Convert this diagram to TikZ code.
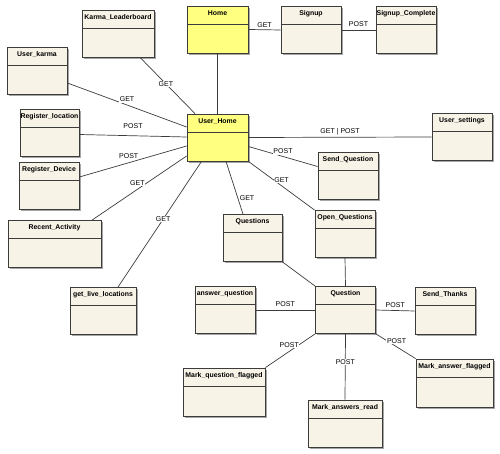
\documentclass[tikz,border=0pt]{standalone}
\usepackage{fontspec}
\setmainfont{Liberation Sans}
\usetikzlibrary{shadows}
\definecolor{boxfill}{RGB}{248,243,231}
\definecolor{homefill}{RGB}{255,255,128}
\definecolor{edgegray}{RGB}{60,60,60}
\tikzset{
  classbox/.style={draw=edgegray, line width=0.8pt, fill=boxfill, minimum height=47pt, inner sep=0pt,
    drop shadow={shadow xshift=1.6pt, shadow yshift=-1.6pt, fill=black, opacity=.35}},
  homebox/.style={classbox, fill=homefill},
  boxtitle/.style={anchor=north, inner sep=0pt, font=\fontsize{6.9}{8}\selectfont\bfseries},
  boxrule/.style={draw=edgegray, line width=0.8pt},
  link/.style={draw=edgegray, line width=0.7pt},
  lbl/.style={fill=white, inner sep=0.6pt, font=\fontsize{7}{8}\selectfont},
}
\begin{document}
\begin{tikzpicture}[x=1pt, y=-1pt]
    \useasboundingbox (0,0) rectangle (500,454);

    % Entry pages - top row
    \node[homebox, minimum width=61pt] (home) at (217.5,29.5) {};
    \node[classbox, minimum width=60pt] (signup) at (311,30) {};
    \node[classbox, minimum width=60pt] (signupdone) at (406,30) {};
    \node[classbox, minimum width=72pt] (karma) at (118,33.5) {};

    % Hub and the pages round it
    \node[homebox, minimum width=61pt] (uhome) at (217.5,137.5) {};
    \node[classbox, minimum width=60pt] (ukarma) at (37,71) {};
    \node[classbox, minimum width=59pt] (regloc) at (49.5,133) {};
    \node[classbox, minimum width=60pt] (regdev) at (49,186) {};
    \node[classbox, minimum width=93pt] (recent) at (54.5,244) {};
    \node[classbox, minimum width=66pt] (livelocs) at (103,311) {};
    \node[classbox, minimum width=60pt] (usettings) at (462,137) {};
    \node[classbox, minimum width=60pt] (sendq) at (348,175.5) {};
    \node[classbox, minimum width=60pt] (openq) at (345,234) {};
    \node[classbox, minimum width=59pt] (questions) at (252.5,238) {};

    % Question page and its actions - bottom
    \node[classbox, minimum width=60pt] (question) at (345.5,310) {};
    \node[classbox, minimum width=60pt] (thanks) at (445,311) {};
    \node[classbox, minimum width=60pt] (answerq) at (225,310) {};
    \node[classbox, minimum width=82pt, minimum height=48pt] (markqf) at (224,392) {};
    \node[classbox, minimum width=74pt] (markread) at (345,423.5) {};
    \node[classbox, minimum width=77pt, minimum height=48pt] (markaf) at (454.5,383) {};

    % Titles and header rules
    \foreach \n/\t in {home/Home, signup/Signup, signupdone/Signup\_Complete, karma/Karma\_Leaderboard,
        uhome/User\_Home, ukarma/User\_karma, regloc/Register\_location, regdev/Register\_Device,
        recent/Recent\_Activity, livelocs/get\_live\_locations, usettings/User\_settings,
        sendq/Send\_Question, openq/Open\_Questions, questions/Questions, question/Question,
        thanks/Send\_Thanks, answerq/answer\_question, markqf/Mark\_question\_flagged,
        markread/Mark\_answers\_read, markaf/Mark\_answer\_flagged}{
      \node[boxtitle] (\n-title) at ([yshift=-4.5pt]\n.north) {\t};
      \draw[boxrule] ([yshift=-18.5pt]\n.north west) -- ([yshift=-18.5pt]\n.north east);
    }

    % Connections from the entry pages
    \draw[link] (home.south) -- (uhome.north);
    \draw[link] (home.east) -- node[lbl, above=1.5pt] {GET} (signup.west);
    \draw[link] (signup.east) -- node[lbl, above=2pt] {POST} (signupdone.west);

    % Connections round the hub
    \draw[link] ([xshift=22pt]karma.south) -- node[lbl, pos=.47] {GET} ([xshift=-22.5pt]uhome.north);
    \draw[link] ([yshift=-12pt]ukarma.east) -- node[lbl, above=2pt] {GET} ([yshift=10.5pt]uhome.west);
    \draw[link] ([yshift=-1.5pt]regloc.east) -- node[lbl, above=6pt] {POST} ([yshift=0.5pt]uhome.west);
    \draw[link] ([yshift=9pt]regdev.east) -- node[lbl, pos=.46, above=3.5pt] {POST} ([yshift=-8.5pt]uhome.west);
    \draw[link] ([xshift=37.5pt]recent.north) -- node[lbl, pos=.48, above=2.5pt] {GET} ([yshift=-18.5pt]uhome.west);
    \draw[link] ([xshift=15pt]livelocs.north) -- node[lbl, pos=.54] {GET} ([xshift=-16pt]uhome.south);
    \draw[link] (uhome.east) -- node[lbl, above=1.5pt] {GET | POST} (usettings.west);
    \draw[link] ([yshift=-9pt]uhome.east) -- node[lbl, above=1.5pt] {POST} ([yshift=9pt]sendq.west);
    \draw[link] (uhome.south east) -- node[lbl, above=2.5pt] {GET} (openq.north west);
    \draw[link] ([xshift=8.5pt]uhome.south) -- node[lbl, pos=.7, right=1pt] {GET} ([xshift=-9.5pt]questions.north);

    % Connections of the question page
    \draw[link] (questions.south east) -- (question.north west);
    \draw[link] (openq.south) -- (question.north);
    \draw[link] (answerq.east) -- node[lbl, above=2pt] {POST} (question.west);
    \draw[link] (question.east) -- node[lbl, above=2pt] {POST} (thanks.west);
    \draw[link] (question.south west) -- node[lbl, pos=.52, above=3pt] {POST} (markqf.north east);
    \draw[link] (question.south) -- node[lbl, pos=.43] {POST} (markread.north);
    \draw[link] (question.south east) -- node[lbl, pos=.52, above=2.5pt] {POST} (markaf.north west);
\end{tikzpicture}
\end{document}
